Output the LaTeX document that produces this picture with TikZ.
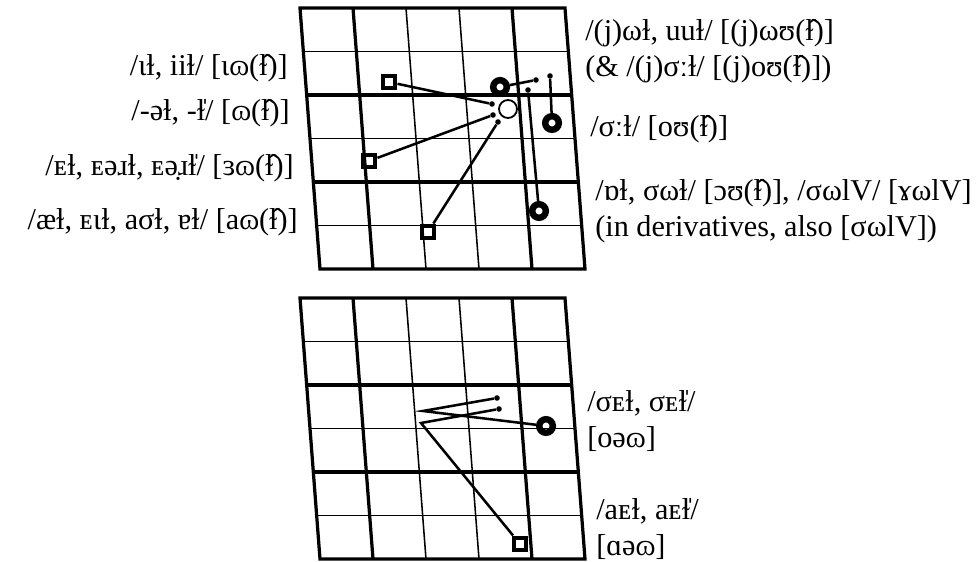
\documentclass[tikz,border=0pt]{standalone}
\usepackage{fontspec}
\setmainfont{Liberation Serif}
\tikzset{
  thinline/.style={line width=1.1pt},
  thickline/.style={line width=2.3pt},
  vsquare/.style={draw, rectangle, line width=3.5pt, minimum size=0.3cm, inner sep=0pt},
  vring/.style={draw, circle, line width=4.6pt, minimum size=0.34cm, inner sep=0pt},
  vcircle/.style={draw, circle, line width=1.3pt, minimum size=0.45cm, inner sep=0pt},
  vdot/.style={fill, circle, minimum size=0.14cm, inner sep=0pt},
  glide/.style={line width=1.8pt},
  lab/.style={font=\fontsize{21.5}{26}\selectfont, inner sep=0pt, align=left}
}
\begin{document}
\begin{tikzpicture}[x=1cm,y=1cm]
\useasboundingbox (0,0) rectangle (24.475,14.025);
\foreach \top in {13.825,6.575} {
  \begin{scope}[shift={(7.5,\top)}, xslant=-0.0766, x=1.325cm, y=1.0875cm]
    \foreach \r in {1,3,5} \draw[thinline] (0,-\r) -- (5,-\r);
    \foreach \c in {2,3} \draw[thinline] (\c,0) -- (\c,-6);
    \foreach \r in {2,4} \draw[thickline] (0,-\r) -- (5,-\r);
    \foreach \c in {1,4} \draw[thickline] (\c,0) -- (\c,-6);
    \draw[thickline] (0,0) rectangle (5,-6);
  \end{scope}
}
\node[vsquare] (ii) at (9.725,11.975) {};
\node[vsquare] (eh) at (9.225,10.0) {};
\node[vsquare] (ae) at (10.7,8.225) {};
\node[vring] (ju) at (12.5,11.85) {};
\node[vcircle] (schwa) at (12.7,11.3) {};
\node[vring] (oo) at (13.8,10.95) {};
\node[vring] (aw) at (13.475,8.75) {};
\node[vdot] (iiend) at (12.3,11.425) {};
\node[vdot] (ehend) at (12.325,11.15) {};
\node[vdot] (aeend) at (12.45,10.975) {};
\node[vdot] (juend) at (13.4,12.025) {};
\node[vdot] (ooend) at (13.75,12.125) {};
\node[vdot] (awend) at (13.2,11.775) {};
\draw[glide] (ii) -- (iiend);
\draw[glide] (eh) -- (ehend);
\draw[glide] (ae) -- (aeend);
\draw[glide] (ju) -- (juend);
\draw[glide] (oo) -- (ooend);
\draw[glide] (aw) -- (awend);
\node[vring] (oe) at (13.65,3.375) {};
\node[vsquare] (ai) at (13.0,0.425) {};
\coordinate (oemid) at (10.575,3.75);
\coordinate (aimid) at (10.525,3.45);
\node[vdot] (oeend) at (12.425,4.075) {};
\node[vdot] (aiend) at (12.475,3.8) {};
\draw[glide] (oe) -- (oemid) -- (oeend);
\draw[glide] (ai) -- (aimid) -- (aiend);
\node[lab, anchor=east] (l1) at (7.2,12.325) {/ɩɫ, iiɫ/ [ɩɷ(ɫ̂)]};
\node[lab, anchor=east] (l2) at (7.25,11.2) {/-əɫ, -ɫ̍/ [ɷ(ɫ̂)]};
\node[lab, anchor=east] (l3) at (7.35,9.825) {/ᴇɫ, ᴇəɹɫ, ᴇə̣ɹɫ̍/ [ɜɷ(ɫ̂)]};
\node[lab, anchor=east] (l4) at (7.45,8.475) {/æɫ, ᴇɩɫ, aσɫ, ɐɫ/ [aɷ(ɫ̂)]};
\node[lab, anchor=west] (r1) at (14.625,12.75) {/(j)ωɫ, uuɫ/ [(j)ωʊ(ɫ̂)]\\(\& /(j)σːɫ/ [(j)oʊ(ɫ̂)])};
\node[lab, anchor=west] (r2) at (14.75,10.8) {/σːɫ/ [oʊ(ɫ̂)]};
\node[lab, anchor=west] (r3) at (14.875,8.75) {/ɒɫ, σωɫ/ [ɔʊ(ɫ̂)], /σωlV/ [ɤωlV]\\(in derivatives, also [σωlV])};
\node[lab, anchor=west] (b1) at (14.675,3.5) {/σᴇɫ, σᴇɫ̍/\\{[}oəɷ]};
\node[lab, anchor=west] (b2) at (14.9,0.8) {/aᴇɫ, aᴇɫ̍/\\{[}ɑəɷ]};
\end{tikzpicture}
\end{document}
